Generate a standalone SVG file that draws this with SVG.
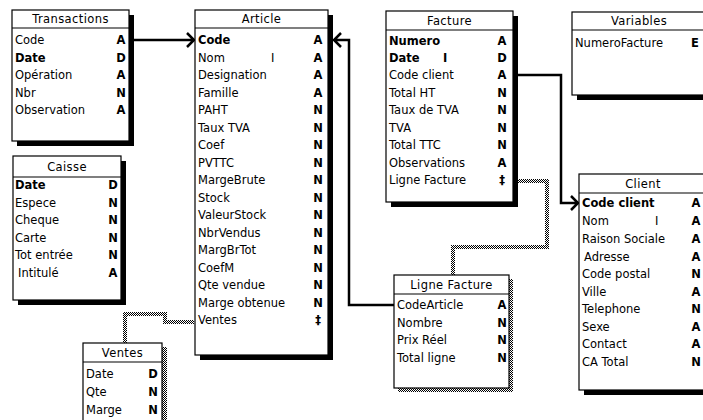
<svg xmlns="http://www.w3.org/2000/svg" width="703" height="420" viewBox="0 0 703 420">
<style>
text{font-family:"DejaVu Sans","Liberation Sans",sans-serif;font-size:11.5px;fill:#000}
.h{text-anchor:middle;letter-spacing:0.4px}
.b{font-weight:bold}
.t{text-anchor:middle;font-weight:bold}
.box{fill:#fff;stroke:#000;stroke-width:1.2}
.sh{fill:#000}
.hs{fill:url(#chk)}
.sep{stroke:#000;stroke-width:1.2}
.con{fill:none;stroke:#000;stroke-width:2.5}
.hat{fill:none;stroke:url(#chk);stroke-width:4}
</style>
<defs>
<pattern id="chk" width="2" height="2" patternUnits="userSpaceOnUse">
<rect width="2" height="2" fill="#fff"/>
<rect width="1" height="1" fill="#000"/>
<rect x="1" y="1" width="1" height="1" fill="#000"/>
</pattern>
</defs>
<rect width="703" height="420" fill="#fff"/>

<g id="connectors">
<path class="con" d="M134,40 H194 M187,33 L194,40 L187,47"/>
<path class="con" d="M394,305 H349 V40 H334 M341,33 L334,40 L341,47"/>
<path class="con" d="M518,75 H561 V203 H578 M571,196 L578,203 L571,210"/>
<path class="hat" d="M518,181 H547 V247 H453 V275"/>
<path class="hat" d="M194,322 H165 V314 H125 V343"/>
</g>

<g id="transactions">
<rect class="sh" x="17" y="15" width="117" height="131"/>
<rect class="box" x="12" y="10" width="117" height="131"/>
<line class="sep" x1="12" y1="28" x2="129" y2="28"/>
<text class="h" x="70.5" y="23">Transactions</text>
<text x="15" y="44">Code</text><text class="t" x="121" y="44">A</text>
<text class="b" x="15" y="61.5">Date</text><text class="t" x="121" y="61.5">D</text>
<text x="15" y="79">Opération</text><text class="t" x="121" y="79">A</text>
<text x="15" y="96.5">Nbr</text><text class="t" x="121" y="96.5">N</text>
<text x="15" y="114">Observation</text><text class="t" x="121" y="114">A</text>
</g>

<g id="caisse">
<rect class="sh" x="18" y="161" width="108" height="144"/>
<rect class="box" x="13" y="156" width="108" height="144"/>
<line class="sep" x1="13" y1="177" x2="121" y2="177"/>
<text class="h" x="67" y="171">Caisse</text>
<text class="b" x="15" y="189">Date</text><text class="t" x="113" y="189">D</text>
<text x="15" y="206.5">Espece</text><text class="t" x="113" y="206.5">N</text>
<text x="15" y="224">Cheque</text><text class="t" x="113" y="224">N</text>
<text x="15" y="241.5">Carte</text><text class="t" x="113" y="241.5">N</text>
<text x="15" y="259">Tot entrée</text><text class="t" x="113" y="259">N</text>
<text x="18" y="276.5">Intitulé</text><text class="t" x="113" y="276.5">A</text>
</g>

<g id="article">
<rect class="sh" x="200" y="15" width="133" height="345"/>
<rect class="box" x="195" y="10" width="133" height="345"/>
<line class="sep" x1="195" y1="28" x2="328" y2="28"/>
<text class="h" x="261.5" y="23">Article</text>
<text class="b" x="198" y="44">Code</text><text class="t" x="318" y="44">A</text>
<text x="198" y="61.5">Nom</text><text x="271" y="61.5">I</text><text class="t" x="318" y="61.5">A</text>
<text x="198" y="79">Designation</text><text class="t" x="318" y="79">A</text>
<text x="198" y="96.5">Famille</text><text class="t" x="318" y="96.5">A</text>
<text x="198" y="114">PAHT</text><text class="t" x="318" y="114">N</text>
<text x="198" y="131.5">Taux TVA</text><text class="t" x="318" y="131.5">N</text>
<text x="198" y="149">Coef</text><text class="t" x="318" y="149">N</text>
<text x="198" y="166.5">PVTTC</text><text class="t" x="318" y="166.5">N</text>
<text x="198" y="184">MargeBrute</text><text class="t" x="318" y="184">N</text>
<text x="198" y="201.5">Stock</text><text class="t" x="318" y="201.5">N</text>
<text x="198" y="219">ValeurStock</text><text class="t" x="318" y="219">N</text>
<text x="198" y="236.5">NbrVendus</text><text class="t" x="318" y="236.5">N</text>
<text x="198" y="254">MargBrTot</text><text class="t" x="318" y="254">N</text>
<text x="198" y="271.5">CoefM</text><text class="t" x="318" y="271.5">N</text>
<text x="198" y="289">Qte vendue</text><text class="t" x="318" y="289">N</text>
<text x="198" y="306.5">Marge obtenue</text><text class="t" x="318" y="306.5">N</text>
<text x="198" y="324">Ventes</text><text class="t" x="318" y="324">‡</text>
</g>

<g id="facture">
<rect class="sh" x="391" y="16" width="127" height="191"/>
<rect class="box" x="386" y="11" width="127" height="191"/>
<line class="sep" x1="386" y1="30" x2="513" y2="30"/>
<text class="h" x="449.5" y="25">Facture</text>
<text class="b" x="389" y="45">Numero</text><text class="t" x="502" y="45">A</text>
<text class="b" x="389" y="62">Date</text><text class="b" x="443" y="62">I</text><text class="t" x="502" y="62">D</text>
<text x="389" y="79">Code client</text><text class="t" x="502" y="79">A</text>
<text x="389" y="96.5">Total HT</text><text class="t" x="502" y="96.5">N</text>
<text x="389" y="114">Taux de TVA</text><text class="t" x="502" y="114">N</text>
<text x="389" y="131.5">TVA</text><text class="t" x="502" y="131.5">N</text>
<text x="389" y="149">Total TTC</text><text class="t" x="502" y="149">N</text>
<text x="389" y="166.5">Observations</text><text class="t" x="502" y="166.5">A</text>
<text x="389" y="184">Ligne Facture</text><text class="t" x="502" y="184">‡</text>
</g>

<g id="variables">
<rect class="sh" x="577" y="17" width="140" height="83"/>
<rect class="box" x="572" y="12" width="140" height="83"/>
<line class="sep" x1="572" y1="30" x2="712" y2="30"/>
<text class="h" x="639" y="25">Variables</text>
<text x="575" y="47">NumeroFacture</text><text class="t" x="695" y="47">E</text>
</g>

<g id="client">
<rect class="sh" x="584" y="179" width="140" height="216"/>
<rect class="box" x="579" y="174" width="140" height="216"/>
<line class="sep" x1="579" y1="193" x2="719" y2="193"/>
<text class="h" x="643" y="188">Client</text>
<text class="b" x="582" y="207">Code client</text><text class="t" x="696" y="207">A</text>
<text x="582" y="225">Nom</text><text x="655" y="225">I</text><text class="t" x="696" y="225">A</text>
<text x="582" y="243">Raison Sociale</text><text class="t" x="696" y="243">A</text>
<text x="584" y="261">Adresse</text><text class="t" x="696" y="261">A</text>
<text x="582" y="278">Code postal</text><text class="t" x="696" y="278">N</text>
<text x="582" y="296">Ville</text><text class="t" x="696" y="296">A</text>
<text x="582" y="313">Telephone</text><text class="t" x="696" y="313">N</text>
<text x="582" y="331">Sexe</text><text class="t" x="696" y="331">A</text>
<text x="582" y="348">Contact</text><text class="t" x="696" y="348">A</text>
<text x="582" y="366">CA Total</text><text class="t" x="696" y="366">N</text>
</g>

<g id="ligne-facture">
<rect class="hs" x="398" y="279" width="115" height="113"/>
<rect class="box" x="394" y="275" width="115" height="113"/>
<line class="sep" x1="394" y1="294" x2="509" y2="294"/>
<text class="h" x="451.5" y="289">Ligne Facture</text>
<text x="397" y="309">CodeArticle</text><text class="t" x="502" y="309">A</text>
<text x="397" y="327">Nombre</text><text class="t" x="502" y="327">N</text>
<text x="397" y="344">Prix Réel</text><text class="t" x="502" y="344">N</text>
<text x="397" y="362">Total ligne</text><text class="t" x="502" y="362">N</text>
</g>

<g id="ventes">
<rect class="hs" x="87" y="347" width="80" height="90"/>
<rect class="box" x="83" y="343" width="79" height="90"/>
<line class="sep" x1="83" y1="362" x2="162" y2="362"/>
<text class="h" x="122.5" y="357">Ventes</text>
<text x="86" y="378">Date</text><text class="t" x="153" y="378">D</text>
<text x="86" y="396">Qte</text><text class="t" x="153" y="396">N</text>
<text x="86" y="414">Marge</text><text class="t" x="153" y="414">N</text>
</g>
</svg>
